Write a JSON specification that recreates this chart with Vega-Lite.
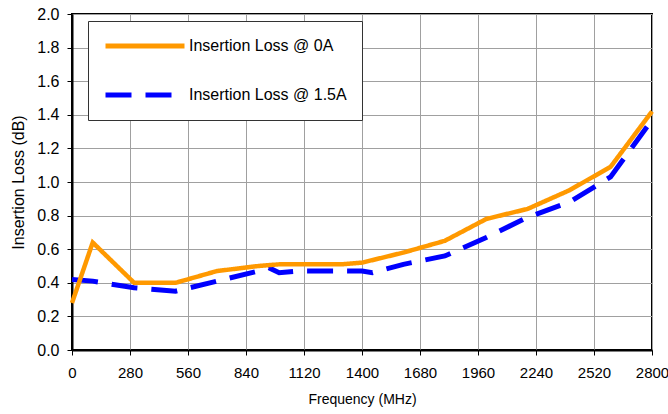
{
  "$schema": "https://vega.github.io/schema/vega-lite/v6.json",
  "width": 580,
  "height": 336,
  "autosize": {"type": "none"},
  "padding": {"left": 72, "top": 14, "right": 16, "bottom": 64},
  "background": "white",
  "data": {
    "values": [
      {"series": "Insertion Loss @ 0A", "freq": 0, "loss": 0.28},
      {"series": "Insertion Loss @ 0A", "freq": 100, "loss": 0.64},
      {"series": "Insertion Loss @ 0A", "freq": 300, "loss": 0.40},
      {"series": "Insertion Loss @ 0A", "freq": 500, "loss": 0.40},
      {"series": "Insertion Loss @ 0A", "freq": 700, "loss": 0.47},
      {"series": "Insertion Loss @ 0A", "freq": 900, "loss": 0.50},
      {"series": "Insertion Loss @ 0A", "freq": 1000, "loss": 0.51},
      {"series": "Insertion Loss @ 0A", "freq": 1300, "loss": 0.51},
      {"series": "Insertion Loss @ 0A", "freq": 1400, "loss": 0.52},
      {"series": "Insertion Loss @ 0A", "freq": 1600, "loss": 0.58},
      {"series": "Insertion Loss @ 0A", "freq": 1800, "loss": 0.65},
      {"series": "Insertion Loss @ 0A", "freq": 2000, "loss": 0.78},
      {"series": "Insertion Loss @ 0A", "freq": 2200, "loss": 0.84},
      {"series": "Insertion Loss @ 0A", "freq": 2400, "loss": 0.95},
      {"series": "Insertion Loss @ 0A", "freq": 2600, "loss": 1.09},
      {"series": "Insertion Loss @ 0A", "freq": 2800, "loss": 1.42},
      {"series": "Insertion Loss @ 1.5A", "freq": 0, "loss": 0.42},
      {"series": "Insertion Loss @ 1.5A", "freq": 100, "loss": 0.41},
      {"series": "Insertion Loss @ 1.5A", "freq": 300, "loss": 0.37},
      {"series": "Insertion Loss @ 1.5A", "freq": 500, "loss": 0.35},
      {"series": "Insertion Loss @ 1.5A", "freq": 700, "loss": 0.41},
      {"series": "Insertion Loss @ 1.5A", "freq": 900, "loss": 0.47},
      {"series": "Insertion Loss @ 1.5A", "freq": 950, "loss": 0.49},
      {"series": "Insertion Loss @ 1.5A", "freq": 1000, "loss": 0.46},
      {"series": "Insertion Loss @ 1.5A", "freq": 1100, "loss": 0.47},
      {"series": "Insertion Loss @ 1.5A", "freq": 1400, "loss": 0.47},
      {"series": "Insertion Loss @ 1.5A", "freq": 1450, "loss": 0.46},
      {"series": "Insertion Loss @ 1.5A", "freq": 1600, "loss": 0.51},
      {"series": "Insertion Loss @ 1.5A", "freq": 1800, "loss": 0.56},
      {"series": "Insertion Loss @ 1.5A", "freq": 2000, "loss": 0.67},
      {"series": "Insertion Loss @ 1.5A", "freq": 2200, "loss": 0.79},
      {"series": "Insertion Loss @ 1.5A", "freq": 2400, "loss": 0.88},
      {"series": "Insertion Loss @ 1.5A", "freq": 2600, "loss": 1.03},
      {"series": "Insertion Loss @ 1.5A", "freq": 2800, "loss": 1.37}
    ]
  },
  "encoding": {
    "x": {
      "field": "freq", "type": "quantitative",
      "scale": {"domain": [0, 2800], "nice": false, "zero": false},
      "axis": {
        "title": "Frequency (MHz)",
        "values": [0, 280, 560, 840, 1120, 1400, 1680, 1960, 2240, 2520, 2800],
        "format": "d",
        "labelFontSize": 15,
        "titleFontSize": 14, "titlePadding": 12, "labelPadding": 10,
        "labelFlush": false, "labelOverlap": false
      }
    },
    "y": {
      "field": "loss", "type": "quantitative",
      "scale": {"domain": [0, 2], "nice": false},
      "axis": {
        "title": "Insertion Loss (dB)",
        "values": [0, 0.2, 0.4, 0.6, 0.8, 1.0, 1.2, 1.4, 1.6, 1.8, 2.0],
        "format": ".1f",
        "titleFontSize": 16, "titlePadding": 10, "labelPadding": 8,
        "labelOverlap": false
      }
    },
    "color": {
      "field": "series", "type": "nominal",
      "scale": {"domain": ["Insertion Loss @ 0A", "Insertion Loss @ 1.5A"], "range": ["#FF9900", "#0000FF"]},
      "legend": {
        "title": null, "orient": "none", "legendX": 16, "legendY": 7,
        "symbolType": "stroke", "symbolSize": 6241, "symbolStrokeWidth": 5,
        "clipHeight": 20, "rowPadding": 29, "padding": 15,
        "strokeColor": "#333333", "fillColor": "white",
        "labelFont": "Liberation Sans", "labelFontSize": 16, "labelColor": "black",
        "labelOffset": 2, "symbolOffset": 0, "labelLimit": 400
      }
    },
    "strokeDash": {
      "field": "series", "type": "nominal",
      "scale": {"domain": ["Insertion Loss @ 0A", "Insertion Loss @ 1.5A"], "range": [[1, 0], [26, 14]]},
      "legend": {
        "title": null, "orient": "none", "legendX": 16, "legendY": 7,
        "symbolType": "stroke", "symbolSize": 6241, "symbolStrokeWidth": 5,
        "clipHeight": 20, "rowPadding": 29, "padding": 15,
        "strokeColor": "#333333", "fillColor": "white",
        "labelFont": "Liberation Sans", "labelFontSize": 16, "labelColor": "black",
        "labelOffset": 2, "symbolOffset": 0, "labelLimit": 400
      }
    }
  },
  "layer": [
    {
      "transform": [{"filter": "datum.series == 'Insertion Loss @ 1.5A'"}],
      "mark": {"type": "line", "strokeWidth": 5}
    },
    {
      "transform": [{"filter": "datum.series == 'Insertion Loss @ 0A'"}],
      "mark": {"type": "line", "strokeWidth": 4.5}
    }
  ],
  "config": {
    "view": {"stroke": "black", "strokeWidth": 2},
    "axis": {
      "domainColor": "black", "domainWidth": 2,
      "tickColor": "black", "tickSize": 5, "tickWidth": 1,
      "gridColor": "#a0a0a0", "gridWidth": 1,
      "labelFont": "Liberation Sans", "labelFontSize": 16, "labelColor": "black",
      "titleFont": "Liberation Sans", "titleFontWeight": "normal", "titleColor": "black"
    }
  }
}
